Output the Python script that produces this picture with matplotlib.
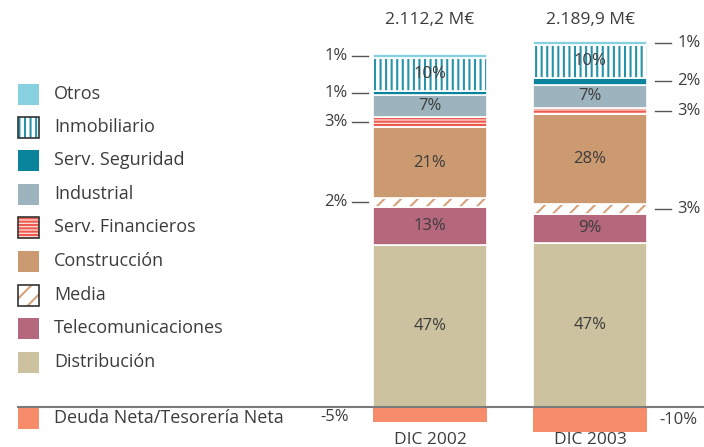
import matplotlib
matplotlib.use("Agg")
import matplotlib.pyplot as plt
import matplotlib.patches as mpatches

plt.rcParams['font.family'] = ['Open Sans', 'DejaVu Sans']
plt.rcParams['hatch.linewidth'] = 1.5

# sectors, bottom to top of each bar
sectors = ['Distribución', 'Telecomunicaciones', 'Media', 'Construcción',
           'Serv. Financieros', 'Industrial', 'Serv. Seguridad',
           'Inmobiliario', 'Otros']
colors = ['#cdc29f', '#b5677c', '#ffffff', '#cc9a70',
          '#fde0dd', '#9db3bd', '#0a849c', '#ffffff', '#86d0e0']
hatches = [None, None, '//', None, '-----', None, None, '|||', None]
hatch_colors = [None, None, '#d6a27c', None, '#ee5a4f', None, None, '#2793a8', None]

years = ['DIC 2002', 'DIC 2003']
totals = ['2.112,2 M€', '2.189,9 M€']
# segment heights (% of portfolio)
shares_2002 = [48.4, 11.4, 2.7, 21.1, 3.1, 6.6, 1.2, 9.9, 1.2]
shares_2003 = [49.0, 8.7, 3.0, 26.9, 1.8, 6.9, 2.1, 9.9, 1.2]
labels_2002 = ['47%', '13%', '2%', '21%', '3%', '7%', '1%', '10%', '1%']
labels_2003 = ['47%', '9%', '3%', '28%', '3%', '7%', '2%', '10%', '1%']
debt = [-4.5, -7.5]
debt_labels = ['-5%', '-10%']
debt_color = '#f78c6b'

inside = [0, 1, 3, 5, 7]      # labels written inside the bar
outside = [8, 6, 4, 2]        # labels written beside the bar

txt = '#3c3c3c'
fs = 12
W, H = 704, 447
fig = plt.figure(figsize=(W / 100, H / 100), dpi=100)
ax = fig.add_axes([0, 0, 1, 1])
ax.set_xlim(-430 / 160, (W - 430) / 160)
ppu = 3.34
ax.set_ylim(-40.5 / ppu, (H - 40.5) / ppu)
ax.axis('off')

bw = 0.71
for i, shares in enumerate([shares_2002, shares_2003]):
    bottom = 0
    for k, h in enumerate(shares):
        if hatches[k]:
            ax.bar(i, h, bw, bottom=bottom, color=colors[k], edgecolor=hatch_colors[k],
                   hatch=hatches[k], linewidth=0)
        else:
            ax.bar(i, h, bw, bottom=bottom, color=colors[k], linewidth=0)
        ax.bar(i, h, bw, bottom=bottom, fill=False, edgecolor='white', linewidth=1.2)
        bottom += h
    ax.bar(i, debt[i], bw, color=debt_color, linewidth=0)

    labels = [labels_2002, labels_2003][i]
    cum = [sum(shares[:k]) for k in range(len(shares))]
    for k in inside:
        ax.text(i, cum[k] + shares[k] / 2, labels[k], ha='center', va='center',
                fontsize=fs, color=txt)
    ax.text(i, 115.7, totals[i], ha='center', va='center', fontsize=fs + 0.5, color=txt)
    ax.text(i, -10.1, years[i], ha='center', va='center', fontsize=fs + 0.5, color=txt)

    for k in outside:
        y = cum[k] + shares[k] / 2
        if i == 0:
            ax.plot([i - bw / 2 - 0.13, i - bw / 2 - 0.03], [y, y], color='#555555', lw=1)
            ax.text(i - bw / 2 - 0.16, y, labels[k], ha='right', va='center',
                    fontsize=fs, color=txt)
        else:
            ax.plot([i + bw / 2 + 0.05, i + bw / 2 + 0.15], [y, y], color='#555555', lw=1)
            ax.text(i + bw / 2 + 0.19, y, labels[k], ha='left', va='center',
                    fontsize=fs, color=txt)

ax.text(0 - bw / 2 - 0.15, -3.2, debt_labels[0], ha='right', va='center', fontsize=fs, color=txt)
ax.text(1 + bw / 2 + 0.08, -4.1, debt_labels[1], ha='left', va='center', fontsize=fs, color=txt)

# baseline
ax.plot([ax.get_xlim()[0] + 18 / 160, ax.get_xlim()[1]], [0, 0], color='#7a7a7a', lw=1.5)

# legend (top to bottom)
leg_y = [94, 127, 160, 194, 227, 261, 295, 328, 362]
for n, k in enumerate(range(len(sectors) - 1, -1, -1)):
    yc = leg_y[n]
    rect = mpatches.Rectangle((18 / W, (H - yc - 11) / H), 21 / W, 21 / H,
                              transform=fig.transFigure, facecolor=colors[k],
                              hatch=hatches[k],
                              edgecolor=hatch_colors[k] if hatches[k] else 'none',
                              linewidth=0)
    fig.add_artist(rect)
    if hatches[k]:
        fig.add_artist(mpatches.Rectangle((18 / W, (H - yc - 11) / H), 21 / W, 21 / H,
                                          transform=fig.transFigure, fill=False,
                                          edgecolor='#333333', linewidth=1.2))
    fig.text(54 / W, (H - yc) / H, sectors[k], ha='left', va='center',
             fontsize=13, color=txt)

fig.add_artist(mpatches.Rectangle((18 / W, (H - 418 - 11) / H), 21 / W, 21 / H,
                                  transform=fig.transFigure, facecolor=debt_color,
                                  linewidth=0))
fig.text(54 / W, (H - 418) / H, 'Deuda Neta/Tesorería Neta', ha='left', va='center',
         fontsize=13, color=txt)

fig.savefig('out.png', dpi=100)
